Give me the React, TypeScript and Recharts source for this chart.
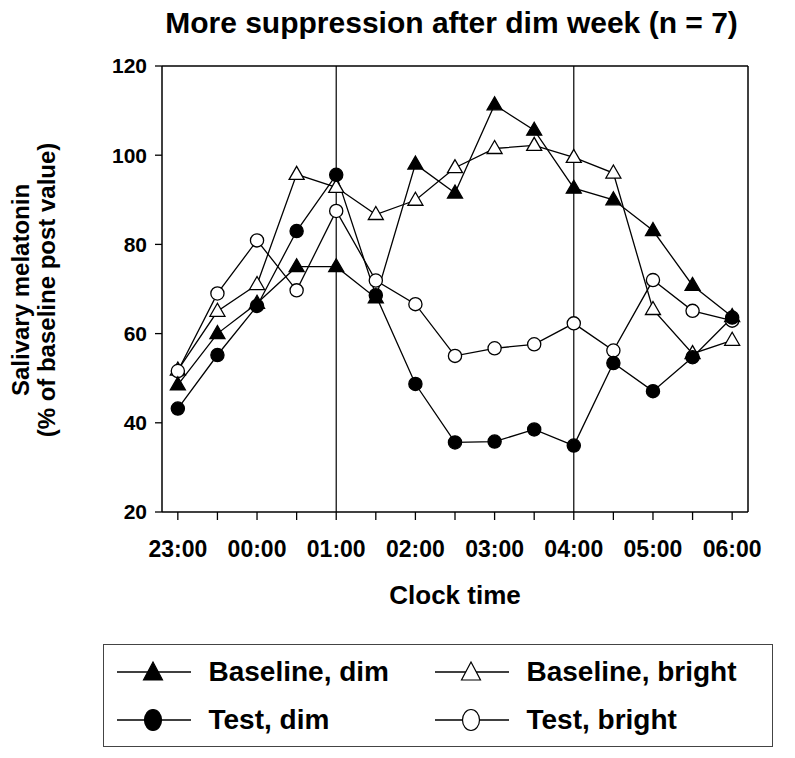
import React from 'react';
import { LineChart, Line, XAxis, YAxis, ReferenceLine } from 'recharts';

// clock times, half-hour steps
const times = ['23:00', '23:30', '00:00', '00:30', '01:00', '01:30', '02:00', '02:30', '03:00', '03:30', '04:00', '04:30', '05:00', '05:30', '06:00'];

const baselineDim = [48.5, 60, 66.8, 75, 75, 68, 98, 91.5, 111.3, 105.6, 92.6, 90, 83.1, 70.8, 63.8];
const baselineBright = [51.8, 65, 71, 95.7, 92.8, 86.7, 89.9, 97.2, 101.5, 102.2, 99.5, 96, 65.4, 55.5, 58.5];
const testDim = [43.2, 55.2, 66.2, 83, 95.6, 68.6, 48.7, 35.6, 35.8, 38.5, 34.9, 53.4, 47.1, 54.7, 63.6];
const testBright = [51.6, 69, 80.9, 69.7, 87.5, 71.9, 66.6, 55, 56.7, 57.6, 62.3, 56.2, 72, 65.1, 62.9];

const yTicks = [20, 40, 60, 80, 100, 120];
const markerLines = ['01:00', '04:00'];

const data = times.map((t, i) => ({
  x: i,
  baselineDim: baselineDim[i],
  baselineBright: baselineBright[i],
  testDim: testDim[i],
  testBright: testBright[i],
}));

const FONT = '"Liberation Sans", Arial, Helvetica, sans-serif';

const triangle = (fill: string) => (props: any) => {
  const { cx, cy, index } = props;
  if (cx == null || cy == null) return <g key={index} />;
  return (
    <polygon
      key={index}
      points={`${cx},${cy - 8} ${cx - 7.5},${cy + 5} ${cx + 7.5},${cy + 5}`}
      fill={fill}
      stroke="#000"
      strokeWidth={1.3}
    />
  );
};

const circle = (fill: string) => (props: any) => {
  const { cx, cy, index } = props;
  if (cx == null || cy == null) return <g key={index} />;
  return <circle key={index} cx={cx} cy={cy} r={6.6} fill={fill} stroke="#000" strokeWidth={1.3} />;
};

const YLabel = () => (
  <text fontFamily={FONT} fontWeight="bold" fontSize={24} fill="#000" textAnchor="middle" transform="translate(29,290) rotate(-90)">
    <tspan x={0} dy={0}>Salivary melatonin</tspan>
    <tspan x={0} dy={26}>(% of baseline post value)</tspan>
  </text>
);

const LegendSymbol = ({ kind }: { kind: string }) => (
  <svg width={74} height={26} style={{ position: 'absolute', left: 0, top: -13 }}>
    <line x1={0} y1={13} x2={74} y2={13} stroke="#000" strokeWidth={1.4} />
    {kind === 'tri-filled' && <polygon points="36,3 26.5,21 45.5,21" fill="#000" stroke="#000" strokeWidth={1.2} />}
    {kind === 'tri-open' && <polygon points="36,3 26.5,21 45.5,21" fill="#fff" stroke="#000" strokeWidth={1.2} />}
    {kind === 'circ-filled' && <ellipse cx={36} cy={13} rx={8.5} ry={10.5} fill="#000" stroke="#000" strokeWidth={1.2} />}
    {kind === 'circ-open' && <ellipse cx={36} cy={13} rx={8.5} ry={10.5} fill="#fff" stroke="#000" strokeWidth={1.2} />}
  </svg>
);

const legendItems = [
  { name: 'Baseline, dim', kind: 'tri-filled', left: 12.5, top: 26.5 },
  { name: 'Baseline, bright', kind: 'tri-open', left: 330.5, top: 26.5 },
  { name: 'Test, dim', kind: 'circ-filled', left: 12.5, top: 74.5 },
  { name: 'Test, bright', kind: 'circ-open', left: 330.5, top: 74.5 },
];

const App: React.FC = () => {
  return (
    <div style={{ position: 'absolute', left: 0, top: 0, width: 795, height: 758, background: '#fff', fontFamily: FONT }}>
      <div style={{ position: 'absolute', left: 0, top: 6, width: 903, textAlign: 'center', fontSize: 30, lineHeight: '34px', fontWeight: 'bold' }}>
        More suppression after dim week (n = 7)
      </div>
      <LineChart width={795} height={758} data={data} margin={{ top: 66, right: 47, left: 0, bottom: 180 }} style={{ position: 'absolute', left: 0, top: 0 }}>
        <XAxis
          dataKey="x"
          type="number"
          domain={[-0.4, 14.4]}
          ticks={times.map((_, i) => i)}
          tickFormatter={(v: number) => (v % 2 === 0 ? times[v] : '')}
          interval={0}
          allowDataOverflow
          height={66}
          stroke="#000"
          strokeWidth={1.5}
          tickSize={8}
          tickLine={{ stroke: '#000', strokeWidth: 1.3 }}
          tick={{ fill: '#000', fontSize: 23, fontWeight: 'bold', fontFamily: FONT, dy: 19 }}
          label={{ value: 'Clock time', position: 'insideBottom', offset: -26, fill: '#000', fontSize: 26, fontWeight: 'bold', fontFamily: FONT }}
        />
        <YAxis
          type="number"
          domain={[20, 120]}
          ticks={yTicks}
          interval={0}
          width={162}
          stroke="#000"
          strokeWidth={1.5}
          tickSize={7}
          tickLine={{ stroke: '#000', strokeWidth: 1.3 }}
          tick={{ fill: '#000', fontSize: 21, fontWeight: 'bold', fontFamily: FONT, dx: -6 }}
          label={<YLabel />}
        />
        <ReferenceLine y={120} stroke="#000" strokeWidth={1.5} />
        <ReferenceLine x={14.4} stroke="#000" strokeWidth={1.5} />
        {markerLines.map((t) => (
          <ReferenceLine key={t} x={times.indexOf(t)} stroke="#000" strokeWidth={1.2} />
        ))}
        <Line dataKey="baselineBright" stroke="#000" strokeWidth={1.3} isAnimationActive={false} dot={triangle('#fff')} />
        <Line dataKey="testBright" stroke="#000" strokeWidth={1.3} isAnimationActive={false} dot={circle('#fff')} />
        <Line dataKey="baselineDim" stroke="#000" strokeWidth={1.3} isAnimationActive={false} dot={triangle('#000')} />
        <Line dataKey="testDim" stroke="#000" strokeWidth={1.3} isAnimationActive={false} dot={circle('#000')} />
      </LineChart>
      <div style={{ position: 'absolute', left: 103, top: 644, width: 668, height: 101, border: '1.5px solid #444' }}>
        {legendItems.map((it) => (
          <div key={it.name} style={{ position: 'absolute', left: it.left, top: it.top }}>
            <LegendSymbol kind={it.kind} />
            <span style={{ position: 'absolute', left: 92, top: -16, fontSize: 28, fontWeight: 'bold', whiteSpace: 'nowrap', lineHeight: '32px' }}>
              {it.name}
            </span>
          </div>
        ))}
      </div>
    </div>
  );
};

export default App;
